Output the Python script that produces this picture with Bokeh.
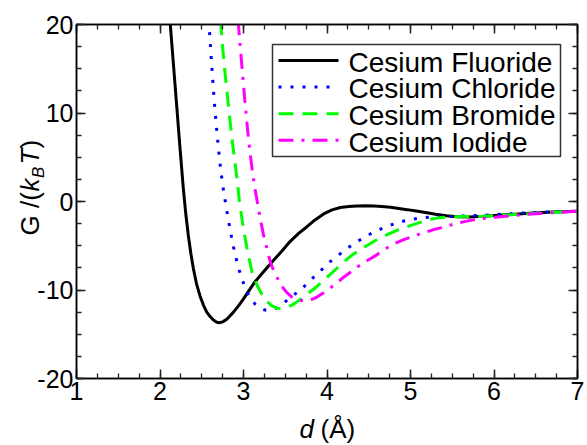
from math import pi

from bokeh.plotting import figure
from bokeh.models import (LinearAxis, SingleIntervalTicker, Label, Range1d,
                          PrintfTickFormatter, CustomJSTickFormatter, GridBox)
from bokeh.embed import file_html
from bokeh.resources import INLINE

# Free energy profiles G/(kB T) against ion separation d (Angstrom)
x_fluoride = [2.12, 2.16, 2.20, 2.24, 2.28, 2.31, 2.34, 2.37, 2.40, 2.44, 2.48, 2.52,
              2.56, 2.60, 2.64, 2.68, 2.71, 2.75, 2.80, 2.88, 2.94, 3.00, 3.06, 3.12,
              3.18, 3.24, 3.30, 3.36, 3.46, 3.56, 3.66, 3.76, 3.86, 3.96, 4.06, 4.16,
              4.26, 4.36, 4.46, 4.56, 4.66, 4.76, 4.86, 4.96, 5.07, 5.18, 5.30, 5.43,
              5.56, 5.70, 5.87, 6.05, 6.25, 6.47, 6.70, 7.00]
g_fluoride = [20.4, 15.6, 10.8, 6.0, 1.4, -1.5, -3.9, -5.9, -7.6, -9.4, -10.7, -11.7,
              -12.5, -13.0, -13.4, -13.65, -13.7, -13.6, -13.3, -12.5, -11.8, -11.0, -10.15, -9.3,
              -8.6, -7.95, -7.3, -6.65, -5.6, -4.5, -3.6, -2.85, -2.05, -1.4, -0.95, -0.68,
              -0.56, -0.5, -0.48, -0.5, -0.56, -0.65, -0.78, -0.92, -1.08, -1.25, -1.45, -1.62,
              -1.72, -1.74, -1.68, -1.56, -1.43, -1.3, -1.2, -1.1]

x_chloride = [2.585, 2.60, 2.62, 2.64, 2.66, 2.68, 2.70, 2.72, 2.75, 2.78, 2.81, 2.84,
              2.87, 2.90, 2.94, 2.98, 3.03, 3.08, 3.14, 3.20, 3.27, 3.34, 3.40, 3.47,
              3.53, 3.58, 3.64, 3.70, 3.80, 3.91, 4.01, 4.12, 4.24, 4.36, 4.48, 4.62,
              4.75, 4.88, 5.00, 5.17, 5.31, 5.50, 5.80, 6.00, 6.31, 6.60, 7.00]
g_chloride = [20.5, 18.2, 15.3, 12.6, 10.2, 8.0, 6.0, 4.2, 1.9, 0.1, -1.6, -3.2,
              -4.7, -6.0, -7.5, -8.7, -10.0, -10.9, -11.6, -12.05, -12.3, -12.25, -12.0, -11.55,
              -11.1, -10.7, -10.3, -9.85, -8.9, -7.97, -7.0, -6.2, -5.3, -4.55, -3.85, -3.2,
              -2.7, -2.3, -2.02, -1.82, -1.74, -1.68, -1.58, -1.5, -1.32, -1.2, -1.1]

x_bromide = [2.725, 2.75, 2.78, 2.81, 2.84, 2.87, 2.90, 2.93, 2.95, 2.99, 3.04, 3.10,
             3.16, 3.22, 3.28, 3.34, 3.40, 3.46, 3.53, 3.60, 3.66, 3.72, 3.80, 3.88,
             3.96, 4.06, 4.16, 4.28, 4.40, 4.50, 4.60, 4.72, 4.84, 4.96, 5.07, 5.17,
             5.27, 5.37, 5.47, 5.65, 5.87, 6.05, 6.25, 6.47, 6.70, 7.00]
g_bromide = [20.5, 17.4, 14.4, 11.7, 9.0, 6.5, 4.2, 2.0, 0.1, -2.5, -5.2, -7.9,
             -9.4, -10.5, -11.3, -11.8, -12.05, -12.1, -11.95, -11.6, -11.2, -10.8, -10.2, -9.6,
             -8.9, -8.05, -7.2, -6.2, -5.4, -4.85, -4.3, -3.75, -3.25, -2.85, -2.5, -2.2,
             -1.95, -1.82, -1.74, -1.7, -1.68, -1.58, -1.47, -1.36, -1.24, -1.1]

x_iodide = [2.935, 2.96, 2.99, 3.02, 3.05, 3.08, 3.11, 3.14, 3.17, 3.20, 3.24, 3.28,
            3.32, 3.36, 3.40, 3.46, 3.52, 3.58, 3.64, 3.70, 3.76, 3.82, 3.88, 3.96,
            4.08, 4.18, 4.28, 4.38, 4.48, 4.60, 4.70, 4.80, 4.92, 5.07, 5.17, 5.27,
            5.37, 5.47, 5.63, 5.80, 6.00, 6.27, 6.50, 6.75, 7.00]
g_iodide = [20.5, 17.6, 14.3, 11.0, 8.0, 5.4, 3.2, 1.3, -0.3, -1.9, -3.8, -5.3,
            -6.8, -7.8, -8.55, -9.6, -10.3, -10.8, -11.1, -11.2, -11.2, -11.05, -10.8, -10.3,
            -9.5, -8.7, -8.0, -7.3, -6.7, -6.0, -5.35, -4.8, -4.3, -3.8, -3.5, -3.2,
            -2.95, -2.68, -2.3, -2.0, -1.78, -1.55, -1.38, -1.24, -1.1]

series_names = ["Cesium Fluoride", "Cesium Chloride", "Cesium Bromide", "Cesium Iodide"]
x_ticks = [1, 2, 3, 4, 5, 6, 7]
y_ticks = [-20, -10, 0, 10, 20]

FONT = "Liberation Sans"
W, H = 587, 445
LEFT, RIGHT, TOP, BOTTOM = 76, 10, 24, 67

series = [
    (x_fluoride, g_fluoride, dict(line_color="black", line_width=3)),
    (x_chloride, g_chloride, dict(line_color="#0000ff", line_width=3, line_dash="3 9")),
    (x_bromide, g_bromide, dict(line_color="#00ff00", line_width=3, line_dash="15 9")),
    (x_iodide, g_iodide, dict(line_color="#ff00ff", line_width=3, line_dash="15 8 3 8")),
]

p = figure(width=W, height=H, x_range=Range1d(x_ticks[0], x_ticks[-1]),
           y_range=Range1d(y_ticks[0], y_ticks[-1]),
           output_backend="svg", toolbar_location=None,
           min_border_left=LEFT, min_border_right=RIGHT,
           min_border_top=TOP, min_border_bottom=BOTTOM)
p.frame_align = False
p.grid.visible = False
p.outline_line_color = "black"
p.outline_line_width = 1.5
p.background_fill_color = "white"
p.border_fill_color = "white"

for xs, ys, style in series:
    p.line(xs, ys, **style)

# extra axes so ticks appear on all four sides of the frame
p.add_layout(LinearAxis(), "above")
p.add_layout(LinearAxis(), "right")


def style_axis(ax, interval, labels):
    ax.ticker = SingleIntervalTicker(interval=interval, num_minor_ticks=4)
    ax.axis_line_color = "black"
    ax.axis_line_width = 1.5
    ax.major_tick_in = 9
    ax.major_tick_out = 0
    ax.minor_tick_in = 5
    ax.minor_tick_out = 0
    ax.major_tick_line_color = "#222222"
    ax.major_tick_line_width = 1.5
    ax.minor_tick_line_color = "#222222"
    ax.minor_tick_line_width = 1.3
    if labels:
        ax.formatter = PrintfTickFormatter(format="%d")
        ax.major_label_text_font = FONT
        ax.major_label_text_font_size = "25px"
        ax.major_label_text_color = "black"
        ax.major_label_standoff = 3
    else:
        ax.formatter = CustomJSTickFormatter(code="return ''")
        ax.major_label_text_font_size = "1px"
        ax.major_label_standoff = 0


for ax in p.below:
    style_axis(ax, 1, True)
for ax in p.above:
    style_axis(ax, 1, False)
for ax in p.left:
    style_axis(ax, 10, True)
for ax in p.right:
    style_axis(ax, 10, False)

# transparent layer in pixel coordinates for the axis titles and the legend
ov = figure(width=W, height=H, x_range=Range1d(0, W), y_range=Range1d(H, 0),
            output_backend="svg", toolbar_location=None, min_border=0,
            x_axis_location=None, y_axis_location=None)
ov.frame_align = False
ov.grid.visible = False
ov.outline_line_color = None
ov.background_fill_alpha = 0
ov.border_fill_alpha = 0

MID = 0.31  # distance from baseline to the middle of a text line, in ems


def add_text(text, px, base, size=26, style="normal", angle=0.0):
    # texts are anchored on their middle; px/base give the left end of the baseline
    shift = MID * size
    if angle:
        px, py = px - shift, base
    else:
        px, py = px, base - shift
    ov.add_layout(Label(x=px, y=py, text=text, angle=angle,
                        text_font=FONT, text_font_size=f"{size}px",
                        text_font_style=style, text_color="black",
                        text_align="left", text_baseline="middle"))


# x-axis title: d (Å)
add_text("d", 299, 436.5, style="italic")
add_text("(Å)", 320, 436.5)

# y-axis title: G /(k_B T), rotated to read upwards
add_text("G /(", 38, 235, angle=pi / 2)
add_text("k", 38, 191, style="italic", angle=pi / 2)
add_text("B", 43, 177.5, size=17, style="italic", angle=pi / 2)
add_text("T", 38, 164, style="italic", angle=pi / 2)
add_text(")", 38, 148, angle=pi / 2)

# legend box with one key line and label per series
LG_L, LG_T, LG_R, LG_B = 272, 44, 560, 156
ROW0, ROW_STEP = 60, 26.6
KEY_X0, KEY_X1, TEXT_X = 278, 338, 348
ov.quad(left=[LG_L], right=[LG_R], top=[LG_T], bottom=[LG_B],
        fill_color="white", line_color="#333333", line_width=1.5)
for i, (name, (_, _, style)) in enumerate(zip(series_names, series)):
    row_y = ROW0 + i * ROW_STEP
    ov.line([KEY_X0, KEY_X1], [row_y, row_y], **style)
    add_text(name, TEXT_X, row_y + 10.5, size=28)

page = GridBox(children=[(p, 0, 0), (ov, 0, 0)])

open("out.html", "w").write(file_html(page, INLINE))
